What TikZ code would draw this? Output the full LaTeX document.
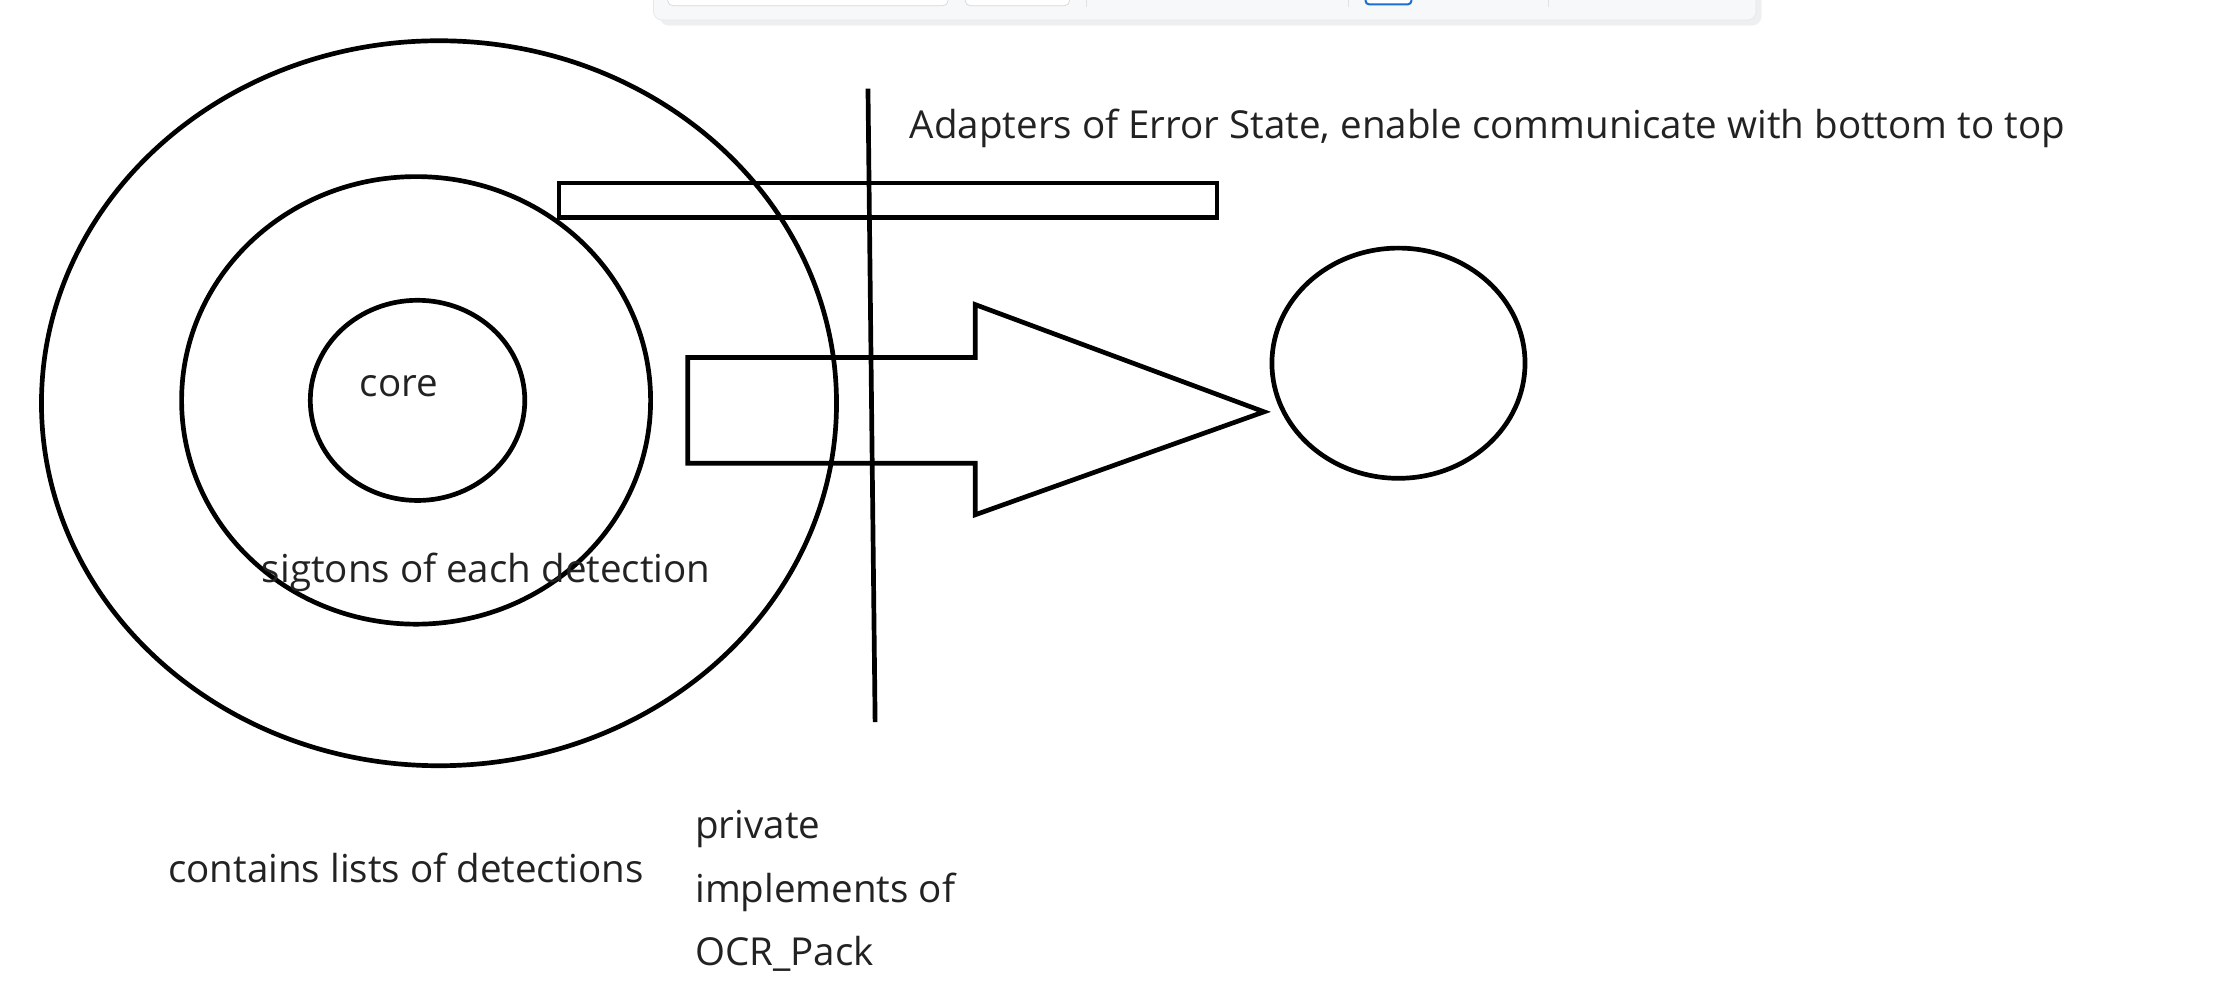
\documentclass[tikz,border=0pt]{standalone}
\usepackage{fontspec}
\setmainfont{Open Sans}
\usetikzlibrary{shapes.geometric}
\definecolor{barbg}{HTML}{F7F8FA}
\definecolor{barline}{HTML}{D4D6DA}
\definecolor{barblue}{HTML}{1A6FD0}
\definecolor{inktext}{HTML}{222222}
\tikzset{
	ring/.style={draw, ellipse, line width=2.8pt, inner sep=0pt},
	label/.style={text=inktext, font=\fontsize{23}{38}\selectfont, inner sep=0pt},
}
\begin{document}
\begin{tikzpicture}[x=0.3mm, y=-0.3mm]
		\useasboundingbox (0,0) rectangle (1563,702);
		% toolbar fragment at the top
		\fill[barline!40, rounded corners=6pt] (461,-10) rectangle (1232,18);
		\draw[barline!60, fill=barbg, rounded corners=5pt] (457,-12) rectangle (1228,14);
		\draw[barline, fill=white, rounded corners=3pt] (467,-10) rectangle (663,4);
		\draw[barline, fill=white, rounded corners=3pt] (675,-10) rectangle (748,4);
		\draw[barline!70] (760,-8) -- (760,5);
		\draw[barline!70] (943,-8) -- (943,5);
		\draw[barline!70] (1083,-8) -- (1083,5);
		\draw[barblue, line width=1.2pt, fill=white, rounded corners=2pt] (955,-8) rectangle (987,3);
		% rings
		\node[ring, minimum width=556*0.3mm, minimum height=507*0.3mm] (outer) at (307,282) {};
		\node[ring, minimum width=328*0.3mm, minimum height=313*0.3mm] (middle) at (291,280) {};
		\node[ring, minimum width=150*0.3mm, minimum height=140*0.3mm] (inner) at (292,280) {};
		\node[ring, minimum width=177*0.3mm, minimum height=161*0.3mm] (target) at (978,254) {};
		\node[label] (core) at (279,270) {core};
		\node[label] (sigtons) at (340,400) {sigtons of each detection};
		% boundary line
		\coordinate (wallTop) at (607,62);
		\coordinate (wallBottom) at (612,505);
		\draw[line width=2.8pt] (wallTop) -- (wallBottom);
		% adapter bar and arrow
		\draw[line width=2.8pt] (391,128) rectangle (851,152);
		\draw[line width=2.8pt, line join=miter] (481,250) -- (682,250) -- (682,213) -- (884,288)
			-- (682,360) -- (682,324) -- (481,324) -- cycle;
		% texts
		\node[label, anchor=west] (adapters) at (636,90) {Adapters of Error State, enable communicate with bottom to top};
		\node[label] (contains) at (284,607) {contains lists of detections};
		\node[label, align=left, anchor=west] (private) at (486,623) {private\\implements of\\OCR\_Pack};
	\end{tikzpicture}
\end{document}
